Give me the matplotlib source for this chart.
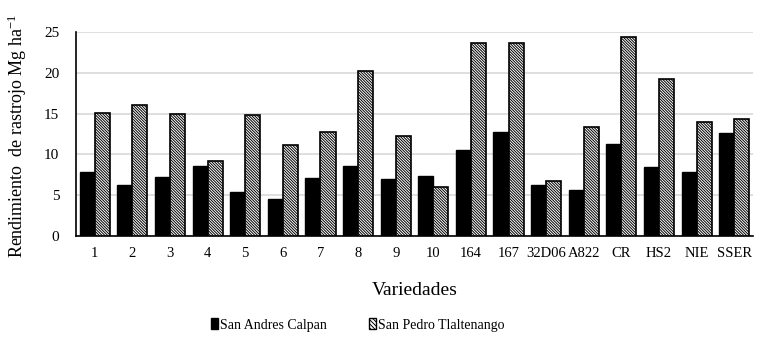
import numpy as np
import matplotlib
matplotlib.use('Agg')
import matplotlib.pyplot as plt
from matplotlib.patches import Patch

variedades = ['1', '2', '3', '4', '5', '6', '7', '8', '9', '10', '164', '167',
              '32D06', 'A822', 'CR', 'HS2', 'NIE', 'SSER']
calpan = [7.8, 6.3, 7.2, 8.6, 5.4, 4.5, 7.1, 8.6, 7.0, 7.4, 10.6, 12.7,
          6.2, 5.6, 11.3, 8.4, 7.9, 12.6]
tlaltenango = [15.1, 16.1, 14.9, 9.2, 14.8, 11.2, 12.8, 20.2, 12.2, 6.0, 23.7, 23.7,
               6.7, 13.4, 24.4, 19.3, 14.0, 14.3]

plt.rcParams['font.family'] = 'Liberation Serif'
plt.rcParams['mathtext.fontset'] = 'custom'
plt.rcParams['mathtext.rm'] = 'Liberation Serif'
plt.rcParams['mathtext.it'] = 'Liberation Serif:italic'
plt.rcParams['hatch.linewidth'] = 0.7

fig = plt.figure(figsize=(7.61, 3.44), dpi=100)
ax = fig.add_axes([76 / 761, 1 - 236 / 344, 677 / 761, 204 / 344])

x = np.arange(len(variedades))
w = 0.4
hatch = '\\' * 12
ax.bar(x - w / 2, calpan, w, color='black', edgecolor='black', linewidth=1, zorder=3)
ax.bar(x + w / 2, tlaltenango, w, color='white', edgecolor='black', linewidth=1.2,
       hatch=hatch, zorder=3)

ax.set_xlim(-0.5, len(variedades) - 0.5)
ax.set_ylim(0, 25)
ax.set_yticks([0, 5, 10, 15, 20, 25])
ax.set_xticks(x)
ax.set_xticklabels(variedades, fontsize=10.5)
ax.tick_params(axis='y', labelsize=11, length=0, pad=12)
ax.tick_params(axis='x', length=0, pad=8)
ax.yaxis.grid(True, color='#d9d9d9', linewidth=1.2, zorder=0)

for s in ['top', 'right']:
    ax.spines[s].set_visible(False)
ax.spines['left'].set_linewidth(1.2)
ax.spines['bottom'].set_linewidth(1.2)

ax.set_ylabel('Rendimiento  de rastrojo Mg ha$^{\\mathrm{-1}}$', fontsize=13)
ax.yaxis.set_label_coords(-0.07, 0.49)
ax.set_xlabel('Variedades', fontsize=14, labelpad=16)

handles = [Patch(facecolor='black', edgecolor='black'),
           Patch(facecolor='white', edgecolor='black', hatch='\\' * 8)]
fig.legend(handles, ['San Andres Calpan', 'San Pedro Tlaltenango'],
           loc='center', bbox_to_anchor=(0.47, 1 - 325 / 344), ncol=2, frameon=False,
           fontsize=10, handlelength=0.5, handleheight=0.8, handletextpad=0.15,
           columnspacing=3)

fig.savefig('out.png', dpi=100)
